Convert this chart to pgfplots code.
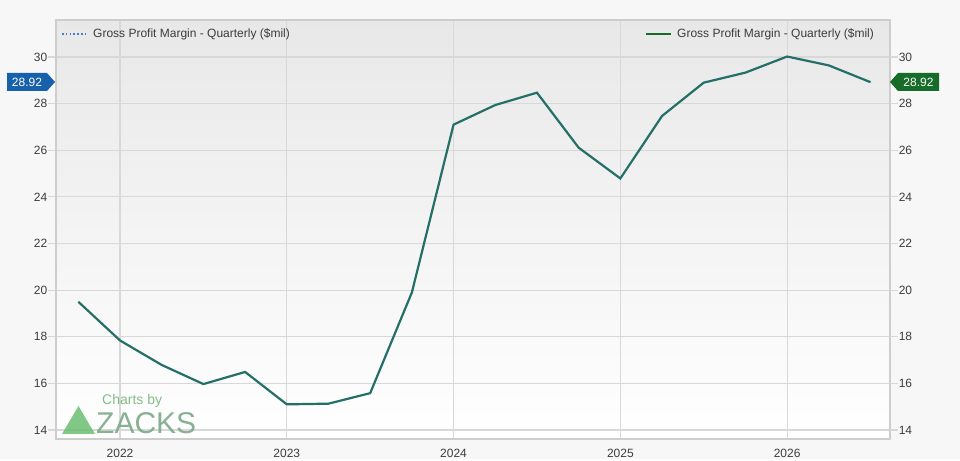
\documentclass[border=0pt]{standalone}
\usepackage{fontspec}
\setmainfont{Liberation Sans}
\usepackage{pgfplots}
\pgfplotsset{compat=1.18}

\definecolor{linecol}{RGB}{36,112,104}
\definecolor{gridcol}{RGB}{216,216,216}
\definecolor{framecol}{RGB}{205,205,205}
\definecolor{tickcol}{RGB}{60,60,60}
\definecolor{tagblue}{RGB}{22,96,172}
\definecolor{taggreen}{RGB}{22,108,40}
\definecolor{zackgreen}{RGB}{108,190,112}
\definecolor{zackgray}{RGB}{124,168,136}

\pgfplotstableread{
x        y
2021.75  19.50
2022.00  17.84
2022.25  16.79
2022.50  15.97
2022.75  16.49
2023.00  15.10
2023.25  15.13
2023.50  15.58
2023.75  19.90
2024.00  27.10
2024.25  27.94
2024.50  28.47
2024.75  26.11
2025.00  24.79
2025.25  27.47
2025.50  28.90
2025.75  29.33
2026.00  30.02
2026.25  29.64
2026.50  28.92
}\gpm

\begin{document}
\begin{tikzpicture}[x=1bp,y=1bp]
% page background
\fill[black!3] (0,0) rectangle (960,459);

\pgfplotsset{
  base/.style={
    at={(56bp,20bp)}, anchor=south west,
    scale only axis, width=834bp, height=419bp,
    xmin=2021.616, xmax=2026.617,
    ymin=13.614, ymax=31.588,
    ytick={14,16,...,30},
    tick label style={font=\fontsize{12bp}{14bp}\selectfont, text=tickcol},
    /pgf/number format/assume math mode=true,
  }
}

\begin{axis}[base,
    axis background/.style={top color=black!9, middle color=black!2, bottom color=white},
    axis line style={framecol, line width=1.2bp},
    xtick={2022,2023,2024,2025,2026},
    xticklabels={2022,2023,2024,2025,2026},
    xtick style={draw=none, /pgfplots/major tick length=0pt},
    xticklabel style={yshift=-2bp},
    ytick style={gridcol, line width=1.2bp, /pgfplots/major tick length=8bp},
    tick align=outside,
    ytick pos=left,
    yticklabel style={xshift=-1bp},
    grid=major,
    major grid style={gridcol, line width=1.2bp},
  ]
  \addplot[linecol, line width=2.2bp] table[x=x, y=y] {\gpm};
\end{axis}

\begin{axis}[base,
    axis y line*=right,
    hide x axis,
    axis line style={draw=none},
    ytick style={gridcol, line width=1.2bp, /pgfplots/major tick length=8bp},
    tick align=outside,
    yticklabel style={xshift=1bp},
  ]
  \addplot[draw=none] coordinates {(2022,20)};
\end{axis}

% legends
\draw[tagblue!80, line width=1.6bp, dash pattern=on 1.6bp off 2.2bp] (62,425) -- (87,425);
\node[anchor=west, inner sep=0, text=tickcol, font=\fontsize{12bp}{14bp}\selectfont] at (93,425) {Gross Profit Margin - Quarterly (\$mil)};
\draw[taggreen, line width=2.2bp] (646,425) -- (671,425);
\node[anchor=west, inner sep=0, text=tickcol, font=\fontsize{12bp}{14bp}\selectfont] at (677,425) {Gross Profit Margin - Quarterly (\$mil)};

% value tags
\fill[tagblue] (7,386) -- (47,386) -- (55,377) -- (47,368) -- (7,368) -- cycle;
\node[text=white, inner sep=0, font=\fontsize{12bp}{14bp}\selectfont] at (27,377) {28.92};
\fill[taggreen] (890,377) -- (898,386) -- (939,386) -- (939,368) -- (898,368) -- cycle;
\node[text=white, inner sep=0, font=\fontsize{12bp}{14bp}\selectfont] at (918.5,377) {28.92};

% watermark
\fill[zackgreen, opacity=0.85] (62,25) -- (95,25) -- (78.5,53) -- cycle;
\node[anchor=base west, inner sep=0, text=zackgreen!80!gray, opacity=0.85, font=\fontsize{14bp}{16bp}\selectfont] at (102,54) {Charts by};
\node[anchor=base west, inner sep=0, text=zackgray, opacity=0.9, font=\fontsize{30bp}{32bp}\selectfont] at (96,25) {ZACKS};
\end{tikzpicture}
\end{document}
